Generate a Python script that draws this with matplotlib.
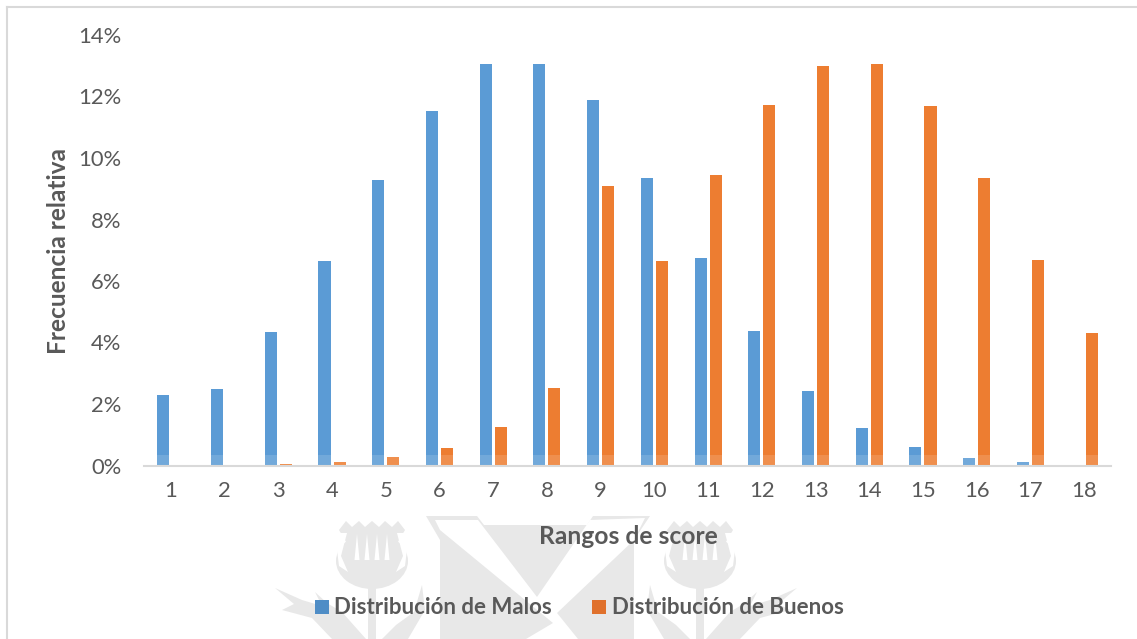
import matplotlib
matplotlib.use("Agg")
import matplotlib.pyplot as plt
from matplotlib.patches import Polygon, Rectangle, Ellipse
import numpy as np

plt.rcParams['font.family'] = ['Lato', 'DejaVu Sans']

rangos = list(range(1, 19))
malos = [2.3, 2.48, 4.35, 6.65, 9.3, 11.52, 13.07, 13.05, 11.9, 9.35,
         6.75, 4.36, 2.43, 1.22, 0.6, 0.25, 0.1, 0.03]
buenos = [0.0, 0.01, 0.04, 0.12, 0.27, 0.57, 1.26, 2.52, 9.1, 6.65,
          9.45, 11.72, 12.98, 13.05, 11.7, 9.36, 6.68, 4.32]
yticks = [0, 2, 4, 6, 8, 10, 12, 14]

W, H = 1137, 639
AZUL = '#5b9bd5'
NARANJA = '#ed7d31'
GRIS = '#595959'
MARCA = '#e8e8e8'

fig = plt.figure(figsize=(W / 100, H / 100), dpi=100)

# axes box given in pixels, y measured from the top
x0, x1, ytop, ybot = 144, 1111, 35, 465.5
ax = fig.add_axes([x0 / W, 1 - ybot / H, (x1 - x0) / W, (ybot - ytop) / H])
ax.patch.set_alpha(0)
ax.set_zorder(3)

# background layer in pixel coordinates, for the frame and the crest
bg = fig.add_axes([0, 0, 1, 1], zorder=0)
bg.set_xlim(0, W)
bg.set_ylim(H, 0)
bg.axis('off')


def thistle(cx, d):
    # d is the side the long leaf points to
    head = [(cx - 33, 530), (cx - 26, 521), (cx - 20, 527), (cx - 13, 521), (cx - 7, 527),
            (cx, 521), (cx + 7, 527), (cx + 13, 521), (cx + 20, 527), (cx + 26, 521),
            (cx + 33, 530), (cx + 24, 545), (cx + 20, 568), (cx - 20, 568), (cx - 24, 545)]
    bg.add_patch(Polygon(head, fc=MARCA, ec='none'))
    bg.add_patch(Ellipse((cx, 561), 72, 56, fc=MARCA, ec='none'))
    bg.add_patch(Rectangle((cx - 40, 520), 80, 12, fc='none', ec='none'))
    # white gap between head and collar on both sides
    for s in (-1, 1):
        bg.add_patch(Polygon([(cx + s * 37, 533), (cx + s * 25, 533), (cx + s * 31, 556),
                              (cx + s * 24, 572), (cx + s * 33, 566)], fc='white', ec='none'))
    # slits in the flower head
    for dx in (-15, -5, 5, 15):
        bg.add_patch(Polygon([(cx + dx - 2.5, 560), (cx + dx, 534), (cx + dx + 2.5, 560)],
                             fc='white', ec='none'))
    # teeth rising from the bulb
    for dx in (-20, -10, 0, 10, 20):
        bg.add_patch(Polygon([(cx + dx - 4, 560), (cx + dx + 4, 560), (cx + dx, 572)],
                             fc=MARCA, ec='none'))
    bg.add_patch(Rectangle((cx - 4, 585), 8, 54, fc=MARCA, ec='none'))
    # long leaf on the outer side
    leaf = [(6, 639), (30, 612), (45, 603), (57, 592), (50, 606), (70, 600), (97, 588),
            (78, 604), (90, 610), (60, 618), (40, 639)]
    bg.add_patch(Polygon([(cx + d * a, b) for a, b in leaf], fc=MARCA, ec='none'))
    # short upright leaf on the inner side
    leaf2 = [(10, 639), (24, 625), (42, 612), (50, 585), (53, 610), (36, 639)]
    bg.add_patch(Polygon([(cx - d * a, b) for a, b in leaf2], fc=MARCA, ec='none'))


thistle(372, -1)
thistle(700, 1)

# big letter between the thistles, a block with a white X cut out of it
bloque = [(426, 516), (477, 516), (484, 525), (587, 525), (593, 516), (650, 516),
          (634, 540), (634, 639), (440, 639), (440, 540)]
corte = [(435, 520), (478, 520), (537, 597), (590, 520), (645, 518), (634, 540),
         (557, 613), (578, 639), (526, 639), (553, 623), (440, 530)]
bg.add_patch(Polygon(bloque, fc=MARCA, ec='none'))
bg.add_patch(Polygon(corte, fc='white', ec='none'))

# outer frame of the chart
bg.plot([7, 7], [7, 639], color='#d9d9d9', lw=1.5)
bg.plot([7, 1137], [7, 7], color='#d9d9d9', lw=1.5)

pos = np.array(rangos)
ancho = 0.225
ax.bar(pos - 0.14, malos, ancho, color=AZUL, zorder=2)
ax.bar(pos + 0.14, buenos, ancho, color=NARANJA, zorder=2)

# the crest washes out the foot of the bars a little
ax.axhspan(0, 0.33, color='white', alpha=0.14, lw=0, zorder=2.5)

ax.set_xlim(0.5, 18.5)
ax.set_ylim(0, 14)
ax.set_xticks(rangos)
ax.set_yticks(yticks)
ax.set_yticklabels([f'{t}%' for t in yticks])
ax.tick_params(axis='both', length=0, labelsize=15.8, colors=GRIS)
ax.tick_params(axis='x', pad=11)
ax.tick_params(axis='y', pad=21)
for lab in ax.get_yticklabels():
    lab.set_x(0.007)

for lado in ('top', 'right', 'left'):
    ax.spines[lado].set_visible(False)
ax.spines['bottom'].set_color('#d9d9d9')
ax.spines['bottom'].set_linewidth(1.5)

fig.text(628 / W, 1 - 536 / H, 'Rangos de score', fontsize=17.7, fontweight='bold',
         color=GRIS, ha='center', va='center', zorder=5)
fig.text(59 / W, 1 - 251 / H, 'Frecuencia relativa', fontsize=17.6, fontweight='bold',
         color=GRIS, ha='center', va='center', rotation=90, zorder=5)

# legend placed by hand below the axis title
top = fig.add_axes([0, 0, 1, 1], zorder=4)
top.set_xlim(0, W)
top.set_ylim(H, 0)
top.axis('off')
top.add_patch(Rectangle((315, 600), 14, 14, fc='#4f8dc6', ec='none'))
top.add_patch(Rectangle((592, 600), 14, 14, fc='#e0712c', ec='none'))
top.text(334, 607, 'Distribución de Malos', fontsize=16, fontweight='bold', color=GRIS, va='center')
top.text(612, 607, 'Distribución de Buenos', fontsize=16, fontweight='bold', color=GRIS, va='center')

fig.savefig('out.png', dpi=100)
